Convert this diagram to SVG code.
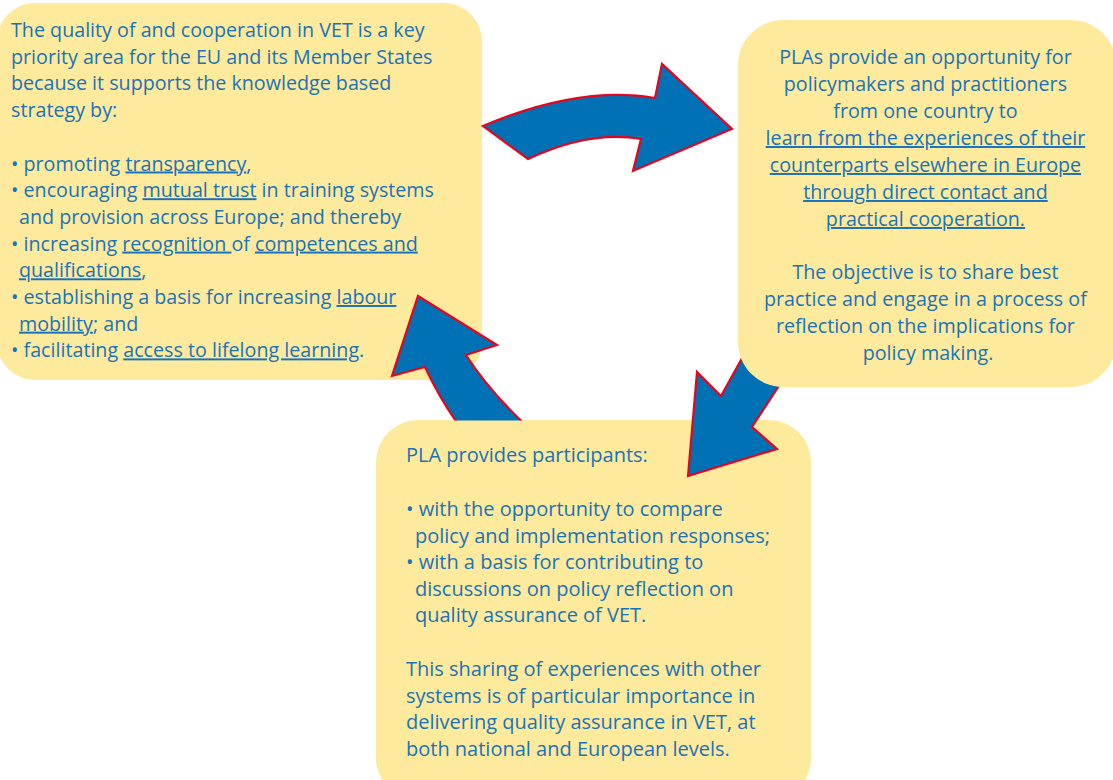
<svg xmlns="http://www.w3.org/2000/svg" width="1113" height="780" viewBox="0 0 1113 780">
  <style>
    .box { fill: #FDEA9C; }
    .txt { font-family: "Open Sans", "Liberation Sans", sans-serif; font-size: 19.7px; fill: #1A73B8; }
    .big { font-size: 20px; }
    .mid { text-anchor: middle; }
    .u { text-decoration: underline; }
    .arrow { fill: #0071B5; stroke: #E2071F; stroke-width: 2.2; stroke-linejoin: miter; }
  </style>
  <defs>
    <clipPath id="aboveBottomBox">
      <rect x="0" y="0" width="1113" height="420.5"/>
    </clipPath>
  </defs>
  <rect width="1113" height="780" fill="#FFFFFF"/>

  <!-- Left box: why quality in VET matters -->
  <g id="node-vet-priority">
    <rect class="box" x="-3" y="3" width="485" height="377" rx="38"/>
    <text class="txt">
      <tspan x="11" y="37">The quality of and cooperation in VET is a key</tspan>
      <tspan x="11" y="63.7">priority area for the EU and its Member States</tspan>
      <tspan x="11" y="90.4">because it supports the knowledge based</tspan>
      <tspan x="11" y="117.1">strategy by:</tspan>
      <tspan x="11" y="170.5">• promoting <tspan class="u">transparency</tspan>,</tspan>
      <tspan x="11" y="197.2">• encouraging <tspan class="u">mutual trust</tspan> in training systems</tspan>
      <tspan x="19" y="223.9">and provision across Europe; and thereby</tspan>
      <tspan x="11" y="250.6">• increasing <tspan class="u">recognition </tspan>of <tspan class="u">competences and</tspan></tspan>
      <tspan x="19" y="277.3"><tspan class="u">qualifications</tspan>,</tspan>
      <tspan x="11" y="304">• establishing a basis for increasing <tspan class="u">labour</tspan></tspan>
      <tspan x="19" y="330.7"><tspan class="u">mobility</tspan>; and</tspan>
      <tspan x="11" y="357.4">• facilitating <tspan class="u">access to lifelong learning</tspan>.</tspan>
    </text>
  </g>

  <!-- Bottom box: what a PLA gives participants -->
  <g id="node-pla-participants">
    <rect class="box" x="376" y="420" width="435" height="380" rx="42"/>
    <text class="txt big">
      <tspan x="406" y="462">PLA provides participants:</tspan>
      <tspan x="406" y="516">• with the opportunity to compare</tspan>
      <tspan x="415" y="542.5">policy and implementation responses;</tspan>
      <tspan x="406" y="569">• with a basis for contributing to</tspan>
      <tspan x="415" y="595.5">discussions on policy reflection on</tspan>
      <tspan x="415" y="622">quality assurance of VET.</tspan>
      <tspan x="406" y="676">This sharing of experiences with other</tspan>
      <tspan x="406" y="702.5">systems is of particular importance in</tspan>
      <tspan x="406" y="729">delivering quality assurance in VET, at</tspan>
      <tspan x="406" y="755.5">both national and European levels.</tspan>
    </text>
  </g>

  <!-- Cycle arrows -->
  <g id="connectors">
    <path id="arrow-vet-to-pla" class="arrow"
          d="M483,126 Q580,85 655,98 L662,64 L732,129 L633,171 L641,139 Q590,130 528,159 Z"/>
    <path id="arrow-pla-to-participants" class="arrow"
          d="M756,333 L721,396 L697,372 L688,476 L777,449 L752,427 L801,352 Z"/>
    <path id="arrow-participants-to-vet" class="arrow" clip-path="url(#aboveBottomBox)"
          d="M474,445 Q445,410 425,367 L392,376 L418,296 L497,345 L466,355 Q495,400 548,445 Z"/>
  </g>

  <!-- Right box: purpose of peer learning activities -->
  <g id="node-pla-purpose">
    <rect class="box" x="738" y="20" width="378" height="367" rx="45"/>
    <text class="txt mid">
      <tspan x="928" y="64">PLAs provide an opportunity for</tspan>
      <tspan x="928" y="91">policymakers and practitioners</tspan>
      <tspan x="928" y="118">from one country to</tspan>
      <tspan x="928" y="145" class="u">learn from the experiences of their</tspan>
      <tspan x="928" y="172" class="u">counterparts elsewhere in Europe</tspan>
      <tspan x="928" y="199" class="u">through direct contact and</tspan>
      <tspan x="928" y="226" class="u">practical cooperation.</tspan>
      <tspan x="928" y="279">The objective is to share best</tspan>
      <tspan x="928" y="306">practice and engage in a process of</tspan>
      <tspan x="928" y="333">reflection on the implications for</tspan>
      <tspan x="928" y="360">policy making.</tspan>
    </text>
  </g>
</svg>
